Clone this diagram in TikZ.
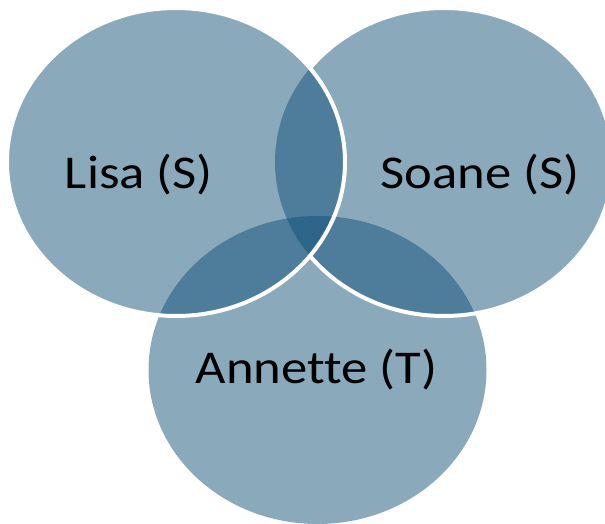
\documentclass[tikz,border=0pt]{standalone}
\usepackage{fontspec}
\setmainfont[Ligatures={NoCommon}]{Carlito}
\definecolor{venn}{RGB}{11,78,117}
\begin{document}
\begin{tikzpicture}[x=1pt,y=-1pt,
  vfill/.style={fill=venn,fill opacity=0.48},
  vline/.style={draw=white,line width=4pt},
  lbl/.style={font=\fontsize{47}{56}\selectfont,text=black,inner sep=0pt}]
\useasboundingbox (0,0) rectangle (605,524);
\fill[white] (0,0) rectangle (605,524);
% fills
\path[vfill] (317.5,370) ellipse (169 and 154);
\path[vfill] (444,162) ellipse (169 and 154);
\path[vfill] (176,162) ellipse (169 and 154);
% white outlines where visible
\begin{scope}[even odd rule]
  \clip (-10,-10) rectangle (620,540) (176,162) ellipse (169 and 154);
  \path[vline] (444,162) ellipse (169 and 154);
\end{scope}
\path[vline] (176,162) ellipse (169 and 154);
% labels
\node[lbl] (lisa) at (139,175) {\scalebox{1.12}[1]{Lisa (S)}};
\node[lbl] (soane) at (480,175) {\scalebox{1.12}[1]{Soane (S)}};
\node[lbl] (annette) at (316.5,370) {\scalebox{1.12}[1]{Annette (T)}};
\end{tikzpicture}
\end{document}
